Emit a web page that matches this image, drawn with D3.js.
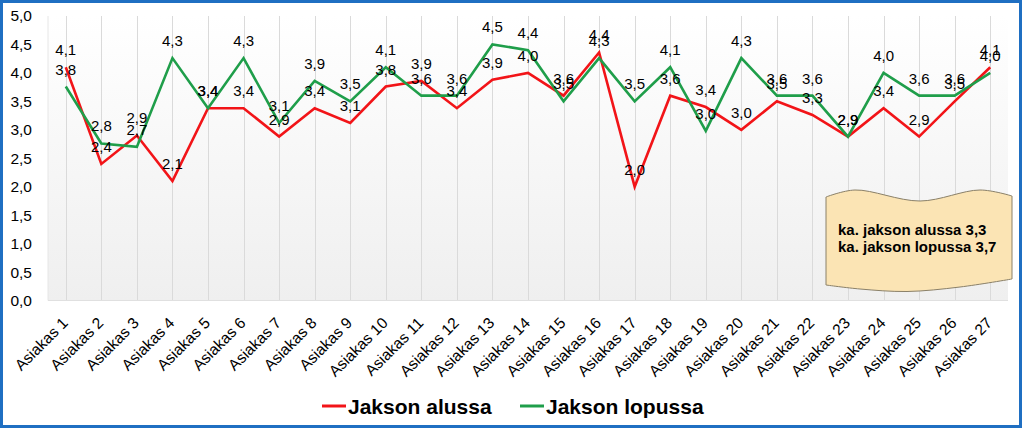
<!DOCTYPE html>
<html>
<head>
<meta charset="utf-8">
<script src="https://cdn.jsdelivr.net/npm/d3@7"></script>
<style>
  html, body { margin: 0; padding: 0; background: #ffffff; }
  svg { display: block; }
  text { font-family: Arial, "Liberation Sans", sans-serif; fill: #000; }
</style>
</head>
<body>
<svg id="chart" width="1023" height="429"></svg>
<script>
// ---- data ----
const categories = ["Asiakas 1","Asiakas 2","Asiakas 3","Asiakas 4","Asiakas 5","Asiakas 6","Asiakas 7","Asiakas 8","Asiakas 9","Asiakas 10","Asiakas 11","Asiakas 12","Asiakas 13","Asiakas 14","Asiakas 15","Asiakas 16","Asiakas 17","Asiakas 18","Asiakas 19","Asiakas 20","Asiakas 21","Asiakas 22","Asiakas 23","Asiakas 24","Asiakas 25","Asiakas 26","Asiakas 27"];
const jaksonAlussa = [4.1, 2.4, 2.9, 2.1, 3.38, 3.38, 2.88, 3.38, 3.12, 3.76, 3.86, 3.38, 3.88, 4.0, 3.6, 4.36, 2.0, 3.6, 3.4, 3.0, 3.5, 3.26, 2.88, 3.38, 2.88, 3.5, 4.1];
const jaksonLopussa = [3.76, 2.76, 2.7, 4.26, 3.38, 4.26, 3.12, 3.86, 3.5, 4.1, 3.6, 3.6, 4.5, 4.4, 3.5, 4.26, 3.5, 4.1, 2.98, 4.26, 3.6, 3.6, 2.88, 4.0, 3.6, 3.6, 4.0];
const seriesNames = ["Jakson alussa", "Jakson lopussa"];
const yTicks = [0, 0.5, 1, 1.5, 2, 2.5, 3, 3.5, 4, 4.5, 5];
const noteLines = ["ka. jakson alussa 3,3", "ka. jakson lopussa 3,7"];

const colors = ["#f21418", "#1f9e4a"];
const series = [jaksonAlussa, jaksonLopussa];

const svg = d3.select("#chart");
const W = 1023, H = 429;
const plot = { left: 48, right: 1008, top: 16, bottom: 300.5 };

const x = d3.scaleBand().domain(categories).range([plot.left, plot.right]);
const cx = c => x(c) + x.bandwidth() / 2;
const y = d3.scaleLinear().domain([0, 5]).range([plot.bottom, plot.top]);
const fmt = v => d3.format(".1f")(v).replace(".", ",");

// background gradient for plot area
const defs = svg.append("defs");
const grad = defs.append("linearGradient").attr("id", "bg").attr("x1", 0).attr("y1", 0).attr("x2", 0).attr("y2", 1);
grad.append("stop").attr("offset", "0%").attr("stop-color", "#ffffff");
grad.append("stop").attr("offset", "100%").attr("stop-color", "#efefef");

svg.append("rect").attr("x", plot.left).attr("y", plot.top)
  .attr("width", plot.right - plot.left).attr("height", plot.bottom - plot.top)
  .attr("fill", "url(#bg)");

// vertical gridlines at categories
svg.append("g").selectAll("line").data(categories).join("line")
  .attr("x1", d => Math.round(cx(d)) + 0.5).attr("x2", d => Math.round(cx(d)) + 0.5)
  .attr("y1", plot.top).attr("y2", plot.bottom)
  .attr("stroke", "#dadada").attr("stroke-width", 1);
svg.append("line").attr("x1", plot.left).attr("x2", plot.left)
  .attr("y1", plot.top).attr("y2", plot.bottom).attr("stroke", "#e6e6e6");
svg.append("line").attr("x1", plot.left).attr("x2", plot.right)
  .attr("y1", plot.bottom).attr("y2", plot.bottom).attr("stroke", "#e0e0e0");

// y axis labels
const yAxis = d3.axisLeft(y).tickValues(yTicks).tickFormat(fmt).tickSize(0).tickPadding(0);
const gy = svg.append("g").attr("transform", `translate(32,0)`).call(yAxis);
gy.select(".domain").remove();
gy.selectAll("text").attr("font-size", 15.5).attr("fill", "#000")
  .style("font-family", "Arial, 'Liberation Sans', sans-serif");

// x axis labels
const xAxis = d3.axisBottom(x).tickSize(0).tickPadding(0);
const gx = svg.append("g").call(xAxis);
gx.select(".domain").remove();
gx.selectAll(".tick").attr("transform", d => `translate(${cx(d) + 3},324)`);
gx.selectAll("text")
  .attr("font-size", 15.5).attr("fill", "#000")
  .style("font-family", "Arial, 'Liberation Sans', sans-serif")
  .attr("text-anchor", "end").attr("x", 0).attr("y", 0).attr("dy", 0)
  .attr("transform", "rotate(-45)");

// lines
const line = d3.line().x((d, i) => cx(categories[i])).y(d => y(d));
series.forEach((s, k) => {
  svg.append("path").datum(s).attr("d", line)
    .attr("fill", "none").attr("stroke", colors[k]).attr("stroke-width", 2.6)
    .attr("stroke-linejoin", "miter");
});

// data labels
series.forEach((s, k) => {
  svg.append("g").selectAll("text").data(s).join("text")
    .attr("x", (d, i) => cx(categories[i]))
    .attr("y", d => y(d) - 12)
    .attr("text-anchor", "middle")
    .attr("font-size", 15)
    .text(d => fmt(d));
});

// note box (wavy scroll shape)
const topEdge = [[826,197],[855,190],[920,201],[980,190],[1012,196]];
const bottomEdge = [[1012,279],[960,287],[907,291.5],[860,289],[826,285]];
const curve = d3.line().curve(d3.curveCatmullRom.alpha(0.5));
const tPath = curve(topEdge);
const bPath = curve(bottomEdge).replace(/^M/, "L");
svg.append("path").attr("d", tPath + bPath + "Z").attr("fill", "#fbe4b4")
  .attr("stroke", "#8a8068").attr("stroke-width", 1);
svg.append("g").selectAll("text").data(noteLines).join("text")
  .attr("x", 838).attr("y", (d, i) => 235 + i * 16.5)
  .attr("font-size", 15).attr("font-weight", "bold")
  .text(d => d);

// legend
const legendX = [322, 520];
series.forEach((s, k) => {
  svg.append("line").attr("x1", legendX[k]).attr("x2", legendX[k] + 24)
    .attr("y1", 406).attr("y2", 406).attr("stroke", colors[k]).attr("stroke-width", 3);
  svg.append("text").attr("x", legendX[k] + 26).attr("y", 413.5)
    .attr("font-size", 21).attr("font-weight", "bold").text(seriesNames[k]);
});

// outer border
svg.append("rect").attr("x", 1.5).attr("y", 1.5).attr("width", W - 4).attr("height", H - 4)
  .attr("fill", "none").attr("stroke", "#1f6fc2").attr("stroke-width", 3);
</script>
</body>
</html>
